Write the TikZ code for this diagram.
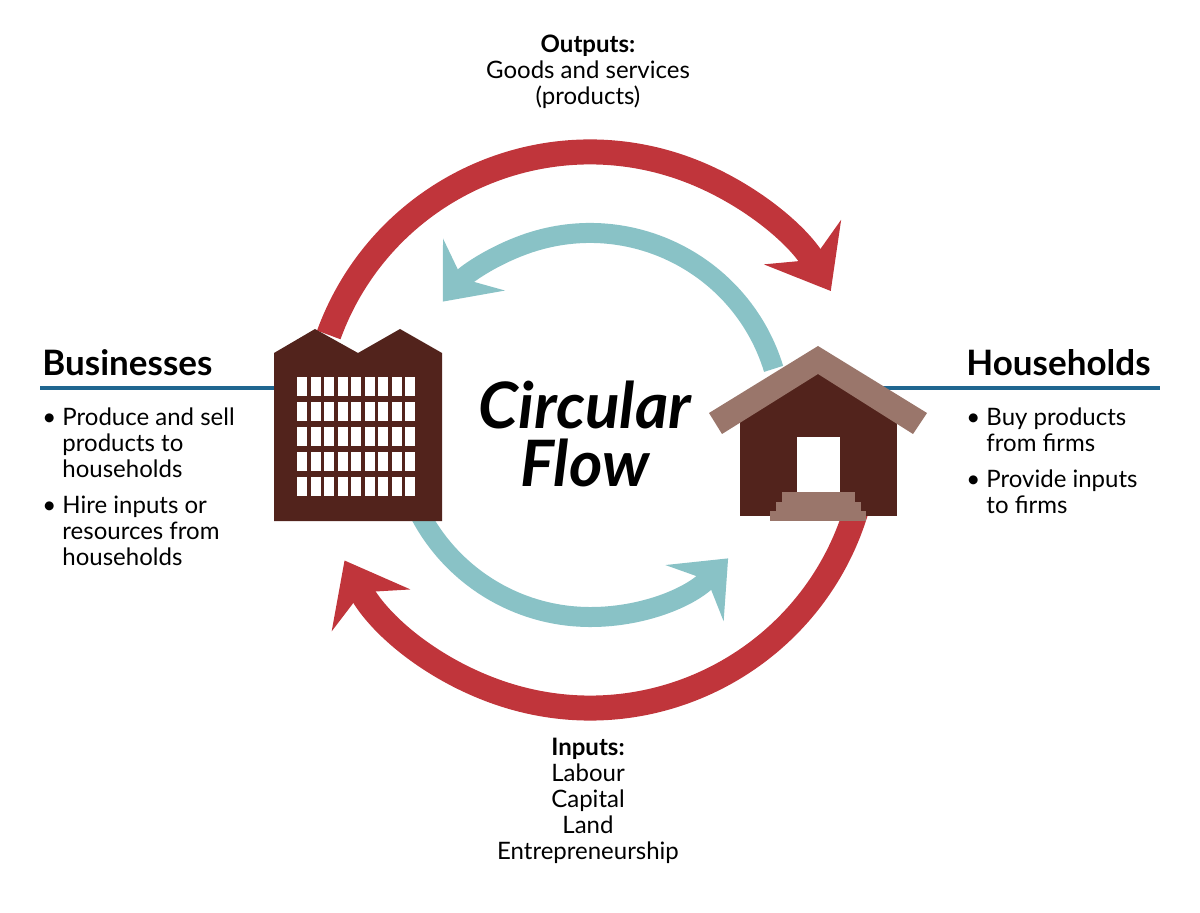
\documentclass[tikz,border=0pt]{standalone}
\usepackage{fontspec}
\setmainfont{Lato}
\usetikzlibrary{arrows.meta}
\definecolor{cred}{HTML}{C0353B}
\definecolor{cteal}{HTML}{89C2C6}
\definecolor{cbrown}{HTML}{52231C}
\definecolor{croof}{HTML}{9A766B}
\definecolor{cblue}{HTML}{1F6690}
\begin{document}
\begin{tikzpicture}[x=0.5pt,y=0.5pt,
  redflow/.style={cred,line width=12.5pt,-{Stealth[length=28pt,width=44pt,inset=10pt]}},
  tealflow/.style={cteal,line width=10pt,-{Stealth[length=24pt,width=40pt,inset=9pt]}},
  head/.style={font=\fontsize{17.5}{20}\selectfont\bfseries,anchor=base west,inner sep=0},
  body/.style={font=\fontsize{12}{13}\selectfont,align=left,anchor=north west,inner sep=0},
  lab/.style={font=\fontsize{12}{13}\selectfont,align=center,anchor=north,inner sep=0},
  win/.style={fill=white}]
\useasboundingbox (0,0) rectangle (1200,912);
% flows
\draw[redflow] (590,482) ++(160:278) arc[start angle=160,end angle=30,radius=278];
\draw[redflow] (590,482) ++(-15:278) arc[start angle=-15,end angle=-152,radius=278];
\draw[tealflow] (590,487) ++(17:192) arc[start angle=17,end angle=140,radius=192];
\draw[tealflow] (590,487) ++(205:192) arc[start angle=205,end angle=316,radius=192];
% lines
\draw[cblue,line width=1.6pt] (40,524) -- (274,524);
\draw[cblue,line width=1.6pt] (880,524) -- (1160,524);
% building
\fill[cbrown] (274,391) -- (274,559) -- (315,583) -- (358,559) -- (400,583) -- (442,559) -- (442,391) -- cycle;
\foreach \i in {0,...,8}{\foreach \j in {0,...,4}{
  \fill[win] ({297+13.5*\i},{535-25*\j}) rectangle ++(10,-19);}}
% house
\fill[cbrown] (740,396) rectangle (897,495);
\fill[cbrown] (740,490) -- (818,560) -- (897,490) -- cycle;
\fill[croof] (709,499) -- (818,566) -- (927,499) -- (913,478) -- (818,538) -- (722,478) -- cycle;
\fill[white] (797,420) rectangle (840,475);
\fill[croof] (782,410) rectangle (855,420);
\fill[croof] (776,401) rectangle (861,410);
\fill[croof] (770,391) rectangle (866,401);
% texts
\node[lab] (out) at (588,877) {\textbf{Outputs:}\\Goods and services\\(products)};
\node[lab] (in) at (588,174) {\textbf{Inputs:}\\Labour\\Capital\\Land\\Entrepreneurship};
\node[font=\fontsize{32}{29}\selectfont\bfseries\itshape,align=center,inner sep=0] (cf) at (585,478) {Circular\\Flow};
\node[head] (bus) at (42,537) {Businesses};
\node[head] (hh) at (966,537) {Households};
\node[body] (bl) at (42,505) {\textbullet\ Produce and sell\\\phantom{\textbullet\ }products to\\\phantom{\textbullet\ }households\\[5pt]\textbullet\ Hire inputs or\\\phantom{\textbullet\ }resources from\\\phantom{\textbullet\ }households};
\node[body] (hl) at (966,505) {\textbullet\ Buy products\\\phantom{\textbullet\ }from firms\\[5pt]\textbullet\ Provide inputs\\\phantom{\textbullet\ }to firms};
\end{tikzpicture}
\end{document}
